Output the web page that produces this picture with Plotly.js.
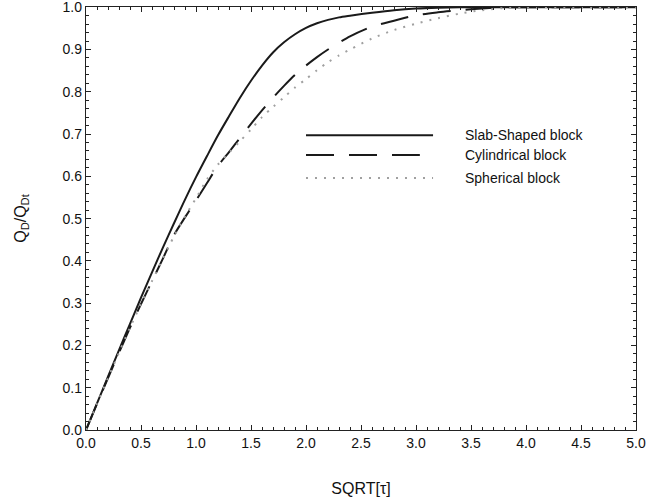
<!DOCTYPE html>
<html>
<head>
<meta charset="utf-8">
<script src="https://cdn.plot.ly/plotly-3.0.1.min.js"></script>
<style>html,body{margin:0;padding:0;background:#fff;}#chart{width:663px;height:500px;}</style>
</head>
<body>
<div id="chart"></div>
<script>
// x values: SQRT[tau]
const sqrtTau = [0, 0.1, 0.2, 0.3, 0.4, 0.5, 0.6, 0.7, 0.8, 0.9, 1.0, 1.1, 1.2, 1.3, 1.4, 1.5, 1.6, 1.7, 1.8, 1.9, 2.0, 2.1, 2.2, 2.3, 2.4, 2.6, 2.8, 3.0, 3.2, 3.4, 3.6, 3.8, 4.0, 4.5, 5.0];
const slabBlock = [0, 0.063, 0.126, 0.189, 0.251, 0.313, 0.373, 0.432, 0.489, 0.545, 0.598, 0.648, 0.697, 0.742, 0.786, 0.826, 0.862, 0.893, 0.917, 0.936, 0.951, 0.962, 0.970, 0.976, 0.980, 0.987, 0.993, 0.997, 0.999, 1.0, 1.0, 1.0, 1.0, 1.0, 1.0];
const cylindricalBlock = [0, 0.062, 0.123, 0.183, 0.242, 0.298, 0.352, 0.406, 0.461, 0.503, 0.543, 0.584, 0.625, 0.657, 0.691, 0.724, 0.756, 0.786, 0.814, 0.840, 0.862, 0.882, 0.900, 0.916, 0.931, 0.954, 0.968, 0.981, 0.988, 0.993, 0.997, 1.0, 1.0, 1.0, 1.0];
const sphericalBlock = [0, 0.062, 0.123, 0.183, 0.242, 0.298, 0.352, 0.406, 0.458, 0.505, 0.548, 0.593, 0.628, 0.656, 0.683, 0.711, 0.740, 0.764, 0.787, 0.810, 0.830, 0.851, 0.870, 0.886, 0.900, 0.926, 0.946, 0.961, 0.974, 0.985, 0.993, 0.998, 1.0, 1.0, 1.0];
const seriesNames = ["Slab-Shaped block", "Cylindrical block", "Spherical block"];
const xTickLabels = ["0.0","0.5","1.0","1.5","2.0","2.5","3.0","3.5","4.0","4.5","5.0"];
const yTickLabels = ["0.0","0.1","0.2","0.3","0.4","0.5","0.6","0.7","0.8","0.9","1.0"];

const styles = [
  {color: '#1a1a1a', width: 2, dash: 'solid'},
  {color: '#1a1a1a', width: 2, dash: '28px,15px'},
  {color: '#a0a0a0', width: 2, dash: '2px,7px'}
];
const ys = [slabBlock, cylindricalBlock, sphericalBlock];
const traces = ys.map((y, i) => ({
  x: sqrtTau, y: y, type: 'scatter', mode: 'lines', name: seriesNames[i],
  line: Object.assign({shape: 'spline', smoothing: 0.8}, styles[i]),
  showlegend: false, hoverinfo: 'skip'
}));

// manual legend (long sample lines like the reference)
const legRowsY = [0.697, 0.650, 0.596];
const legEnd = [0.631, 0.607, 0.631];
const shapes = legRowsY.map((yy, i) => ({
  type: 'line', xref: 'paper', yref: 'paper', x0: 0.4, x1: legEnd[i], y0: yy, y1: yy,
  line: {color: styles[i].color, width: styles[i].width, dash: styles[i].dash}
}));
const fontFam = 'Liberation Sans, Arial, sans-serif';
const annotations = legRowsY.map((yy, i) => ({
  xref: 'paper', yref: 'paper', x: 0.686, y: yy, xanchor: 'left', yanchor: 'middle',
  text: seriesNames[i], showarrow: false, font: {family: fontFam, size: 14, color: '#111'}
}));

const xTickVals = xTickLabels.map(Number);
const yTickVals = yTickLabels.map(Number);
const layout = {
  width: 663, height: 500,
  margin: {l: 86, r: 27, t: 7, b: 70},
  paper_bgcolor: '#fff', plot_bgcolor: '#fff',
  font: {family: fontFam, size: 14, color: '#111'},
  xaxis: {
    range: [0, 5], tickvals: xTickVals, ticktext: xTickLabels,
    ticks: 'inside', ticklen: 5, tickwidth: 1, tickcolor: '#222',
    minor: {dtick: 0.1, ticks: 'inside', ticklen: 3, tickcolor: '#222', showgrid: false},
    showline: true, linecolor: '#222', linewidth: 1.2, mirror: 'allticks',
    showgrid: false, zeroline: false, automargin: false, ticklabeloverflow: 'allow',
    tickfont: {family: fontFam, size: 14, color: '#111'},
    title: {text: 'SQRT[τ]', font: {family: fontFam, size: 16, color: '#111'}, standoff: 32}
  },
  yaxis: {
    range: [0, 1.0005], tickvals: yTickVals, ticktext: yTickLabels,
    ticks: 'inside', ticklen: 5, tickwidth: 1, tickcolor: '#222',
    minor: {dtick: 0.02, ticks: 'inside', ticklen: 3, tickcolor: '#222', showgrid: false},
    showline: true, linecolor: '#222', linewidth: 1.2, mirror: 'allticks',
    showgrid: false, zeroline: false, automargin: false, ticklabeloverflow: 'allow',
    tickfont: {family: fontFam, size: 14, color: '#111'},
    title: {text: 'Q<sub>D</sub>/Q<sub>Dt</sub>', font: {family: fontFam, size: 16, color: '#111'}, standoff: 32}
  },
  shapes: shapes,
  annotations: annotations
};
Plotly.newPlot('chart', traces, layout, {staticPlot: true, displayModeBar: false});
</script>
</body>
</html>
